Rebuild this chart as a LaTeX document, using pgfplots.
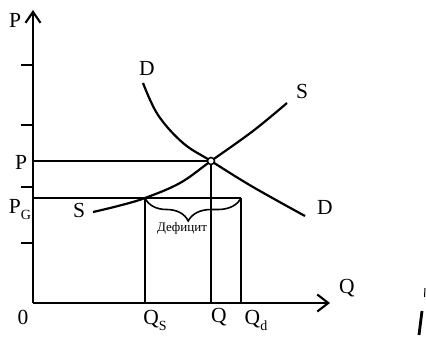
\documentclass[border=0pt]{standalone}
\usepackage{fontspec}
\setmainfont{Liberation Serif}
\usepackage{pgfplots}
\pgfplotsset{compat=1.18}
\usetikzlibrary{arrows.meta,decorations.pathreplacing}

\newcommand{\lbl}{\fontsize{21.5}{24}\selectfont}
\newcommand{\sub}[1]{\raisebox{-0.28em}{\fontsize{14}{14}\selectfont #1}}

\begin{document}
\begin{tikzpicture}
\begin{axis}[
  x=1pt, y=1pt,
  xmin=0, xmax=297, ymin=0, ymax=293,
  axis lines=left,
  axis line style={line width=2.1pt, black},
  x axis line style={-{Straight Barb[length=11pt,width=17pt,line width=2.1pt]}},
  y axis line style={-{Straight Barb[length=11pt,width=15pt,line width=2.1pt]}},
  xtick=\empty,
  ytick={60,116,178,238},
  yticklabels={},
  tick align=outside,
  major tick length=12pt,
  tick style={line width=2pt, black},
  clip=false,
]
% invisible frame fixing the picture size
\path (axis cs:-33,-35) rectangle (axis cs:393,303);

% supply
\addplot[black, line width=2.2pt, smooth, tension=0.6] coordinates {(60,91)(85,97)(112,105)(147,120)(178,142)(220,172)(254,200)};
% demand
\addplot[black, line width=2.2pt, smooth, tension=0.6] coordinates {(110,220)(125,188)(150,160)(178,142)(220,116)(272,87)};

% price lines
\addplot[black, line width=1.9pt] coordinates {(0,142)(178,142)};
\addplot[black, line width=1.9pt] coordinates {(0,105)(208,105)};
% quantity lines
\addplot[black, line width=1.8pt] coordinates {(112,0)(112,105)};
\addplot[black, line width=1.8pt] coordinates {(178,0)(178,142)};
\addplot[black, line width=1.8pt] coordinates {(208,0)(208,105)};

% brace
\addplot[black, line width=1.6pt, decorate, decoration={brace, mirror, amplitude=23pt, aspect=0.45}] coordinates {(112,105)(208,105)};

% equilibrium
\addplot[only marks, mark=*, mark size=3.5pt, mark options={line width=1.5pt, fill=white, draw=black}] coordinates {(178,142)};

% scan marks at right edge
\addplot[black, line width=1pt] coordinates {(392,15)(391.5,6)};
\addplot[black, line width=2.8pt] coordinates {(389,-8)(386,-32)};

% labels
\node at (axis cs:-18,283) {\lbl P};
\node at (axis cs:-12,141) {\lbl P};
\node at (axis cs:-13,93) {\lbl P\sub{G}};
\node at (axis cs:46,93) {\lbl S};
\node at (axis cs:114,235) {\lbl D};
\node at (axis cs:269,212) {\lbl S};
\node at (axis cs:292,96) {\lbl D};
\node at (axis cs:314,15) {\lbl Q};
\node at (axis cs:-10,-14) {\lbl 0};
\node at (axis cs:122,-17) {\lbl Q\sub{S}};
\node at (axis cs:186,-14) {\lbl Q};
\node at (axis cs:223,-17) {\lbl Q\sub{d}};
\node at (axis cs:149,75) {\fontsize{13}{14}\selectfont Дефицит};
\end{axis}
\end{tikzpicture}
\end{document}
